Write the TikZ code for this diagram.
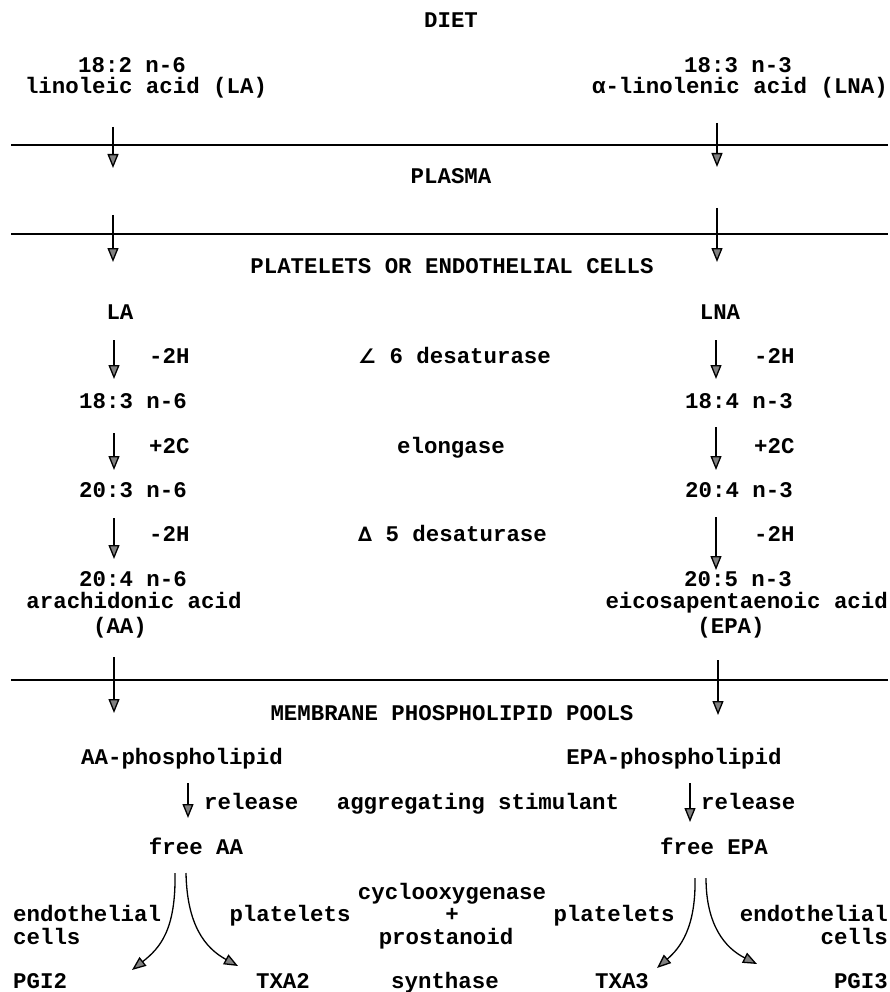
\documentclass[tikz,border=0pt]{standalone}
\usepackage{fontspec}
\setmonofont{Liberation Mono}
\newfontfamily\symfont{DejaVu Sans}
\usetikzlibrary{arrows.meta}
\tikzstyle{every node}=[font=\ttfamily\bfseries\fontsize{22.4}{24}\selectfont, inner sep=0pt, anchor=base]
\tikzstyle{flow}=[-{Triangle[length=14pt,width=11pt,fill=gray]}, line width=1.3pt]
\tikzstyle{wall}=[line width=2pt]

\begin{document}
\begin{tikzpicture}[x=1pt, y=-1pt]
\useasboundingbox (0,0) rectangle (890,992);
% Compartment borders
    \draw[wall] (11,145) -- (888,145);
    \draw[wall] (11,234) -- (888,234);
    \draw[wall] (11,680) -- (888,680);
% Compartment names
    \node (diet) at (451,28) {DIET};
    \node (plasma) at (451,184) {PLASMA};
    \node (cells) at (452,273) {PLATELETS OR ENDOTHELIAL CELLS};
    \node (pools) at (452,720) {MEMBRANE PHOSPHOLIPID POOLS};
%n-6 series
    \node (la1) at (132,73) {18:2 n-6};
    \node (la2) at (146,94) {linoleic acid (LA)};
    \node (la) at (120,319) {LA};
    \node (gla) at (133,408) {18:3 n-6};
    \node (dgla) at (133,497) {20:3 n-6};
    \node (aa1) at (133,586) {20:4 n-6};
    \node (aa2) at (134,608) {arachidonic acid};
    \node (aa3) at (120,633) {(AA)};
    \node (aapl) at (182,764) {AA-phospholipid};
    \node (freeaa) at (196,854) {free AA};
%n-3 series
    \node (lna1) at (738,73) {18:3 n-3};
    \node[anchor=base east] (lna2) at (888,94) {α-linolenic acid (LNA)};
    \node (lna) at (720,319) {LNA};
    \node (sda) at (739,408) {18:4 n-3};
    \node (eta) at (739,497) {20:4 n-3};
    \node (epa1) at (738,586) {20:5 n-3};
    \node[anchor=base east] (epa2) at (888,608) {eicosapentaenoic acid};
    \node (epa3) at (731,633) {(EPA)};
    \node (epapl) at (674,764) {EPA-phospholipid};
    \node (freeepa) at (714,854) {free EPA};
%Steps and enzymes
    \node[anchor=base west] (h1l) at (149,363) {-2H};
    \node[anchor=base west] (h1r) at (754,363) {-2H};
    \node[anchor=base west] (c2l) at (149,453) {+2C};
    \node[anchor=base west] (c2r) at (754,453) {+2C};
    \node[anchor=base west] (h2l) at (149,541) {-2H};
    \node[anchor=base west] (h2r) at (754,541) {-2H};
    \node[anchor=base west] (d6) at (358,363) {{\symfont\fontsize{20}{24}\selectfont ∠} 6 desaturase};
    \node (elong) at (451,453) {elongase};
    \node[anchor=base west] (d5) at (358,541) {{\symfont\fontsize{20}{24}\selectfont ∆} 5 desaturase};
    \node[anchor=base west] (rell) at (204,809) {release};
    \node[anchor=base west] (relr) at (701,809) {release};
    \node (stim) at (478,809) {aggregating stimulant};
    \node (cox) at (452,899) {cyclooxygenase};
    \node (plus) at (452,921) {+};
    \node (pros) at (446,944) {prostanoid};
    \node (synth) at (445,988) {synthase};
%Cell types and products
    \node[anchor=base west] (endl1) at (13,921) {endothelial};
    \node[anchor=base west] (endl2) at (13,944) {cells};
    \node (platl) at (290,921) {platelets};
    \node (platr) at (614,921) {platelets};
    \node[anchor=base east] (endr1) at (888,921) {endothelial};
    \node[anchor=base east] (endr2) at (888,944) {cells};
    \node[anchor=base west] (pgi2) at (13,988) {PGI2};
    \node (txa2) at (283,988) {TXA2};
    \node (txa3) at (622,988) {TXA3};
    \node[anchor=base east] (pgi3) at (888,988) {PGI3};
%Straight arrows
    \foreach \n/\x/\ya/\yb in {a1/113/127/168, a2/113/215/262, a3/114/340/379,
        a4/114/433/470, a5/114/518/559, a6/114/657/713,
        b1/717/123/167, b2/717/208/262, b3/716/340/379,
        b4/716/427/470, b5/716/517/570, b6/718/660/715,
        rl/188/783/818, rr/690/783/822} {
      \coordinate (\n s) at (\x,\ya);
      \coordinate (\n e) at (\x,\yb);
      \draw[flow] (\n s) -- (\n e);
    }
%Curved arrows to prostanoids
    \coordinate (pgi2s) at (175,873);
    \coordinate (pgi2e) at (132,970);
    \coordinate (txa2s) at (186,873);
    \coordinate (txa2e) at (238,966);
    \coordinate (txa3s) at (695,878);
    \coordinate (txa3e) at (657,968);
    \coordinate (pgi3s) at (706,878);
    \coordinate (pgi3e) at (757,964);
    \draw[flow] (pgi2s) .. controls (176,930) and (160,948) .. (pgi2e);
    \draw[flow] (txa2s) .. controls (187,925) and (205,948) .. (txa2e);
    \draw[flow] (txa3s) .. controls (696,928) and (680,948) .. (txa3e);
    \draw[flow] (pgi3s) .. controls (706,925) and (725,948) .. (pgi3e);
\end{tikzpicture}
\end{document}
